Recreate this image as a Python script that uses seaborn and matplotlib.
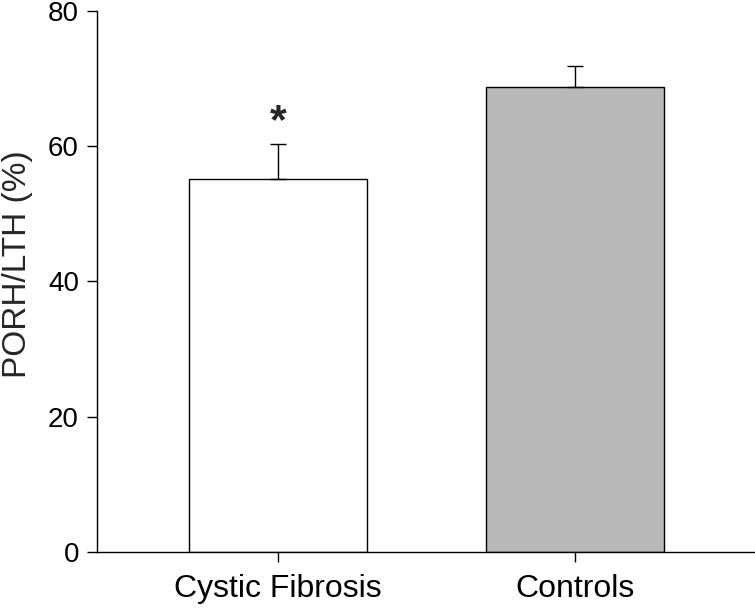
import matplotlib
matplotlib.use("Agg")
import matplotlib.pyplot as plt
import seaborn as sns
import pandas as pd

# values
groups = ["Cystic Fibrosis", "Controls"]
means = [55.2, 68.8]
sems = [5.1, 3.1]
bar_colors = ["#ffffff", "#b8b8b8"]
yticks = [0, 20, 40, 60, 80]

sns.set_theme(style="ticks")
plt.rcParams["font.family"] = ["Liberation Sans", "DejaVu Sans"]

df = pd.DataFrame({"group": groups, "value": means})

fig = plt.figure(figsize=(7.55, 6.09), dpi=100)
ax = fig.add_axes([0.1285, 0.0936, 0.8715, 0.8884])

sns.barplot(data=df, x="group", y="value", hue="group", palette=bar_colors,
            width=0.6, edgecolor="black", linewidth=1.0, legend=False,
            errorbar=None, ax=ax)

# upper-only error bars
ax.errorbar(range(len(groups)), means, yerr=[[0] * len(sems), sems],
            fmt="none", ecolor="black", elinewidth=1.0, capsize=6, capthick=1.0)

# significance marker
ax.text(0, means[0] + sems[0] + 3.2, "*", ha="center", va="center",
        fontsize=31, fontweight="bold")

ax.set_ylim(0, 80)
ax.set_xlim(-0.61, 1.606)
ax.set_yticks(yticks)
ax.set_xlabel("")
ax.set_ylabel("PORH/LTH (%)", fontsize=24)
ax.yaxis.set_label_coords(-0.097, 0.532)
ax.tick_params(axis="both", direction="out", length=7, width=1.0,
               color="black", labelcolor="black")
ax.tick_params(axis="y", labelsize=20, pad=6)
ax.tick_params(axis="x", labelsize=23, pad=9)
sns.despine(ax=ax, top=True, right=True)
for side in ["left", "bottom"]:
    ax.spines[side].set_color("black")
    ax.spines[side].set_linewidth(1.0)

fig.savefig("out.png", dpi=100)
